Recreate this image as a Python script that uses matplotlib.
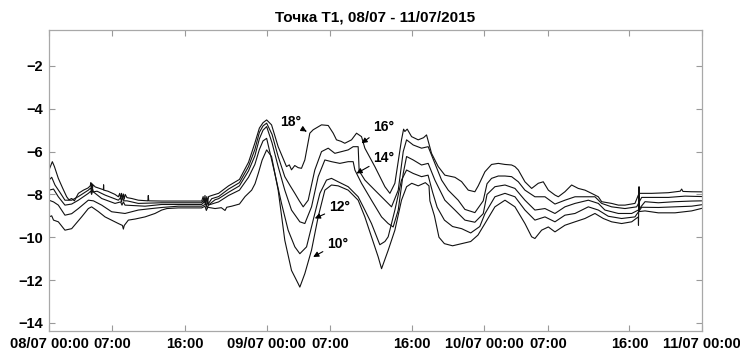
import matplotlib
matplotlib.use("Agg")
import matplotlib.pyplot as plt

# hours since 08/07 00:00 and values, one pair per depth line
h18 = [0.0, 0.37, 0.6, 1.03, 1.5, 1.95, 2.2, 2.5, 2.8, 3.24, 3.8, 4.3, 4.55, 4.62, 4.68, 4.74, 4.8, 4.86,
       5.1, 5.6, 6.0, 6.02, 6.05, 6.5, 7.28, 7.65, 7.8, 7.9, 8.0, 8.1, 8.2, 8.3, 8.4, 8.6, 9.12, 9.85,
       10.9, 10.95, 11.0, 12.43, 14.26, 16.84, 17.0, 17.1, 17.2, 17.3, 17.4, 17.5, 17.6, 17.94, 18.7,
       19.8, 21.0, 22.0, 22.7, 23.2, 23.6, 24.0, 24.54, 25.27, 26.19, 26.5, 26.74, 27.1, 27.48, 27.84,
       28.21, 28.76, 29.13, 30.05, 30.79, 31.34, 31.7, 32.2, 32.62, 33.36, 33.91, 34.46, 34.83, 35.93,
       37.04, 37.59, 38.14, 38.87, 39.1, 39.24, 39.5, 39.98, 40.71, 41.3, 41.63, 42.18, 42.92, 43.65,
       44.76, 45.49, 46.23, 46.96, 47.33, 48.07, 48.8, 49.54, 50.28, 51.01, 51.38, 51.75, 52.48, 53.22,
       53.95, 54.5, 55.06, 55.79, 56.16, 56.89, 57.63, 58.36, 59.1, 59.83, 60.57, 60.94, 62.04, 62.78,
       63.51, 64.61, 65.06, 66.45, 68.29, 69.6, 69.76, 69.9, 70.86, 72.0]
t18 = [-6.86, -6.47, -6.7, -7.25, -7.7, -8.11, -8.25, -8.19, -8.3, -7.95, -7.8, -7.7, -7.6, -7.45, -7.75,
       -7.5, -7.7, -7.55, -7.65, -7.72, -7.78, -7.55, -7.8, -7.85, -8.0, -8.11, -7.95, -8.2, -7.95, -8.2,
       -7.98, -8.22, -8.0, -8.15, -8.19, -8.27, -8.3, -8.05, -8.3, -8.31, -8.31, -8.31, -8.1, -8.4, -8.05,
       -8.4, -8.1, -8.35, -8.1, -8.05, -7.95, -7.6, -7.3, -6.5, -5.6, -4.9, -4.65, -4.52, -4.75, -5.77,
       -6.7, -6.62, -6.85, -6.65, -6.75, -6.78, -6.39, -5.14, -4.98, -4.75, -4.78, -5.14, -5.45, -5.52,
       -5.61, -5.45, -5.14, -5.3, -5.84, -6.7, -7.64, -7.95, -7.48, -5.45, -4.95, -5.06, -4.95, -5.3,
       -5.45, -5.35, -5.22, -6.08, -6.7, -7.1, -7.2, -7.4, -7.8, -7.875, -7.6, -6.94, -6.6, -6.55, -6.6,
       -6.625, -6.7, -6.86, -7.41, -7.72, -7.48, -7.41, -7.8, -8.03, -8.11, -7.875, -7.56, -7.72, -7.8,
       -7.95, -8.11, -8.34, -8.42, -8.5, -8.5, -8.42, -7.95, -7.95, -7.92, -7.85, -7.75, -7.86, -7.875,
       -7.88]

h16 = [0.0, 0.3, 0.66, 1.2, 1.76, 2.5, 3.24, 4.34, 4.6, 4.7, 4.8, 4.9, 5.3, 6.18, 7.65, 7.9, 8.0, 8.1,
       8.25, 8.6, 9.85, 12.43, 16.84, 17.1, 17.25, 17.4, 17.55, 17.94, 18.7, 19.8, 21.0, 22.0, 22.7,
       23.2, 23.6, 24.0, 24.6, 25.27, 26.0, 26.6, 27.11, 27.6, 28.03, 28.58, 29.31, 30.05, 30.79, 31.52,
       32.26, 32.99, 33.54, 34.09, 34.2, 34.83, 35.93, 37.04, 37.77, 38.51, 39.06, 39.43, 40.16, 41.08,
       41.81, 42.55, 43.29, 44.02, 45.12, 45.86, 46.96, 47.88, 48.3, 48.8, 49.54, 50.28, 51.01, 51.75,
       52.48, 53.58, 54.69, 55.79, 56.89, 58.0, 59.1, 60.2, 60.94, 62.04, 63.51, 64.8, 65.35, 66.45,
       68.29, 70.13, 72.0]
t16 = [-7.33, -7.2, -7.56, -7.9, -8.27, -8.27, -8.1, -7.8, -7.7, -7.9, -7.72, -7.88, -7.85, -8.03, -8.27,
       -8.15, -8.35, -8.12, -8.3, -8.3, -8.42, -8.39, -8.39, -8.2, -8.45, -8.2, -8.45, -8.2, -8.1, -7.75,
       -7.45, -6.7, -5.9, -5.1, -4.8, -4.67, -5.2, -6.23, -7.17, -7.6, -7.95, -8.3, -8.58, -8.27, -6.86,
       -6.0, -5.84, -6.08, -6.0, -5.92, -5.77, -5.77, -6.9, -7.33, -7.8, -8.27, -8.58, -7.8, -6.0, -5.45,
       -5.69, -5.84, -5.77, -6.55, -7.33, -7.8, -8.27, -8.7, -8.85, -8.3, -7.5, -7.25, -7.14, -7.14,
       -7.17, -7.41, -7.8, -8.11, -8.11, -8.45, -8.27, -8.11, -8.11, -8.11, -8.42, -8.58, -8.66, -8.58,
       -8.14, -8.14, -8.14, -8.08, -8.1]

h14 = [0.0, 0.5, 1.03, 1.76, 2.5, 3.24, 4.34, 4.6, 4.7, 4.8, 5.81, 7.28, 7.9, 8.05, 8.2, 8.38, 10.59,
       12.43, 16.84, 17.2, 17.35, 17.5, 17.57, 18.31, 18.7, 19.8, 21.0, 22.0, 22.7, 23.2, 23.6, 24.0,
       24.6, 25.27, 26.0, 26.74, 27.66, 28.21, 28.95, 29.68, 30.42, 31.15, 32.07, 32.99, 33.54, 33.73,
       34.46, 35.56, 36.67, 37.4, 37.95, 38.51, 39.06, 39.43, 40.16, 41.08, 41.81, 42.55, 43.65, 44.76,
       45.86, 46.96, 47.88, 48.3, 49.17, 50.28, 51.38, 52.48, 53.58, 54.69, 55.79, 56.89, 58.0, 59.47,
       60.57, 61.3, 62.78, 64.25, 64.98, 65.72, 67.19, 69.03, 70.86, 72.0]
t14 = [-7.8, -7.75, -8.11, -8.5, -8.45, -8.27, -7.95, -7.85, -8.0, -7.85, -8.19, -8.42, -8.35, -8.5,
       -8.35, -8.5, -8.55, -8.47, -8.47, -8.3, -8.55, -8.3, -8.5, -8.25, -8.2, -7.9, -7.6, -6.9, -6.2,
       -5.4, -5.0, -4.83, -5.6, -6.7, -7.8, -8.73, -9.28, -9.36, -8.58, -7.17, -6.39, -6.47, -6.55, -6.47,
       -6.47, -6.86, -7.48, -8.27, -9.05, -9.36, -9.52, -8.73, -7.02, -6.23, -6.39, -6.625, -6.55, -7.33,
       -8.27, -8.73, -9.2, -9.3, -8.9, -8.0, -7.64, -7.56, -7.72, -8.27, -8.73, -8.66, -8.89, -8.58, -8.42,
       -8.27, -8.42, -8.73, -8.89, -8.89, -8.73, -8.34, -8.39, -8.34, -8.31, -8.3]

h12 = [0.0, 0.5, 1.03, 1.76, 2.5, 3.24, 4.34, 4.9, 5.81, 6.91, 8.38, 9.85, 11.32, 12.43, 14.26, 16.84,
       17.3, 17.45, 17.57, 18.31, 18.7, 19.8, 21.0, 22.0, 22.7, 23.2, 23.6, 24.0, 24.9, 25.64, 26.37,
       27.11, 27.66, 28.4, 29.13, 29.87, 30.6, 31.15, 31.89, 32.99, 34.09, 34.83, 35.56, 36.48, 37.04,
       37.4, 38.14, 38.87, 39.43, 40.16, 41.08, 41.8, 42.3, 42.8, 43.6, 44.5, 45.5, 46.5, 47.5, 48.07,
       49.17, 50.28, 51.38, 52.48, 53.58, 54.69, 55.79, 56.89, 58.0, 59.47, 60.57, 61.67, 63.14, 64.61,
       65.35, 67.19, 69.03, 70.86, 72.0]
t12 = [-8.27, -8.35, -8.5, -8.97, -8.9, -8.66, -8.27, -8.3, -8.5, -8.81, -8.89, -8.73, -8.66, -8.61,
       -8.55, -8.55, -8.45, -8.65, -8.5, -8.4, -8.35, -8.05, -7.8, -7.2, -6.6, -5.9, -5.5, -5.38, -7.02,
       -8.42, -9.67, -10.45, -10.77, -10.45, -9.2, -7.95, -7.33, -7.25, -7.41, -7.64, -8.11, -8.73, -9.36,
       -10.35, -10.2, -9.98, -8.73, -7.33, -6.86, -7.02, -7.17, -7.1, -7.9, -8.6, -9.2, -9.5, -9.6, -9.8,
       -9.5, -8.9, -8.11, -7.95, -8.11, -8.73, -9.2, -9.05, -9.28, -8.97, -8.89, -8.58, -8.73, -9.02,
       -9.125, -9.05, -8.6, -8.61, -8.58, -8.55, -8.48]

h10 = [0.0, 0.3, 0.5, 1.03, 1.76, 2.5, 3.6, 4.34, 4.7, 5.44, 6.18, 7.65, 8.1, 8.2, 8.3, 8.75, 9.5, 10.59,
       11.69, 12.43, 13.0, 14.26, 16.84, 17.2, 17.35, 17.5, 18.31, 19.0, 19.41, 19.6, 20.15, 21.0, 21.62,
       22.35, 22.72, 23.09, 23.5, 24.0, 24.54, 25.27, 26.0, 26.74, 27.48, 27.66, 28.21, 28.95, 29.68,
       30.42, 31.15, 31.89, 32.99, 34.09, 34.83, 35.56, 36.3, 36.67, 37.4, 38.14, 38.87, 39.43, 40.0,
       40.71, 41.5, 41.9, 42.0, 42.5, 43.0, 43.6, 44.5, 45.5, 46.5, 47.3, 48.07, 49.17, 50.28, 51.38,
       52.48, 53.22, 53.58, 54.32, 55.06, 55.79, 56.89, 58.0, 59.1, 60.2, 61.12, 62.04, 63.14, 64.25,
       64.98, 65.0, 65.06, 65.1, 65.72, 67.19, 69.03, 70.86, 72.0]
t10 = [-9.05, -9.0, -9.2, -9.28, -9.67, -9.6, -9.05, -8.66, -8.58, -8.8, -9.05, -9.36, -9.45, -9.62,
       -9.45, -9.2, -9.15, -9.05, -8.89, -8.73, -8.66, -8.63, -8.63, -8.55, -8.75, -8.6, -8.66, -8.62,
       -8.75, -8.6, -8.55, -8.45, -8.1, -7.8, -7.5, -7.0, -6.4, -5.92, -6.23, -7.8, -10.14, -11.55, -12.17,
       -12.33, -11.7, -10.6, -9.05, -7.8, -7.56, -7.6, -7.8, -8.27, -9.05, -9.98, -10.92, -11.47, -10.61,
       -9.67, -8.27, -7.64, -7.48, -7.6, -7.45, -7.6, -8.3, -9.0, -10.0, -10.3, -10.4, -10.3, -10.2, -9.9,
       -9.36, -8.58, -8.27, -8.58, -9.36, -9.98, -10.06, -9.67, -9.52, -9.75, -9.44, -9.28, -9.125, -8.89,
       -9.125, -9.28, -9.36, -9.28, -9.05, -9.44, -7.64, -8.8, -8.77, -8.86, -8.86, -8.77, -8.65]

labels = ["18°", "16°", "14°", "12°", "10°"]
tick_hours = [0, 7, 15, 24, 31, 40, 48, 55, 64, 72]
tick_labels = ["08/07 00:00", "07:00", "16:00", "09/07 00:00", "07:00", "16:00",
               "10/07 00:00", "07:00", "16:00", "11/07 00:00"]

# annotation placement: text centre and arrow tip (hours, value)
text_pos = [(26.7, -4.63), (36.9, -4.86), (36.9, -6.31), (32.0, -8.61), (31.8, -10.3)]
tip_pos = [(28.4, -5.06), (34.46, -5.61), (33.9, -7.02), (29.31, -9.12), (29.13, -10.92)]

plt.rcParams["font.family"] = ["Liberation Sans", "DejaVu Sans"]

fig = plt.figure(figsize=(7.4, 3.52), dpi=100)
ax = fig.add_axes([0.0662, 0.0597, 0.8824, 0.855])

for h, t in [(h18, t18), (h16, t16), (h14, t14), (h12, t12), (h10, t10)]:
    ax.plot(h, t, color="#111111", linewidth=0.8)

for lab, xy_text, xy_tip in zip(labels, text_pos, tip_pos):
    ax.annotate(lab, xy=xy_tip, xytext=xy_text, ha="center", va="center",
                fontsize=10, fontweight="bold",
                arrowprops=dict(arrowstyle="-|>", color="k", lw=0.8,
                                mutation_scale=8, shrinkA=1, shrinkB=0))

ax.set_xlim(0, 72)
ax.set_ylim(-14.38, -0.32)
ax.set_xticks(tick_hours)
ax.set_xticklabels(tick_labels)
ax.set_yticks(range(-14, -1, 2))
ax.tick_params(direction="in", top=True, right=True, length=4, width=0.8,
               color="#9a9a9a", labelsize=10.5, pad=4)
for lbl in ax.get_xticklabels() + ax.get_yticklabels():
    lbl.set_fontweight("bold")
for sp in ax.spines.values():
    sp.set_color("#a8a8a8")
    sp.set_linewidth(0.9)

ax.set_title("Точка T1, 08/07 - 11/07/2015", fontsize=11, fontweight="bold", pad=6)

fig.savefig("out.png", dpi=100)
